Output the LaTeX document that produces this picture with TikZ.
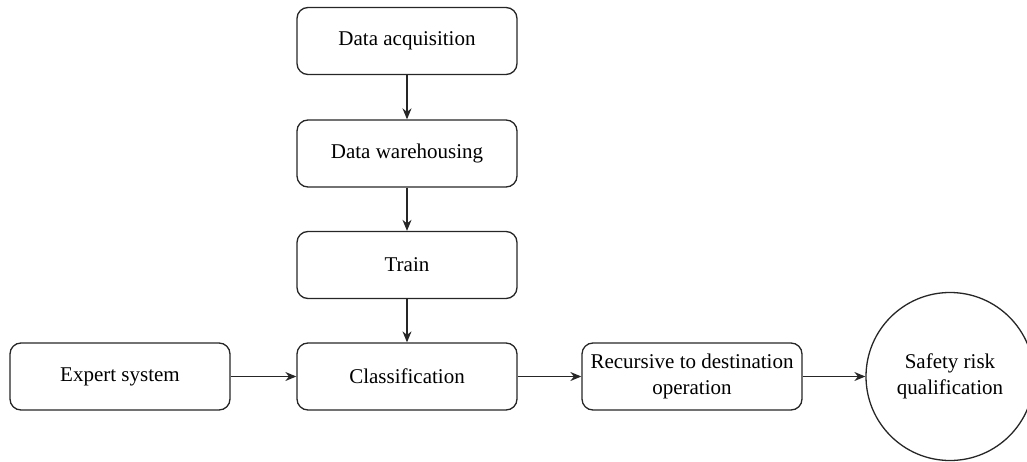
\documentclass[tikz,border=0pt]{standalone}
\usepackage{fontspec}
\setmainfont{Liberation Serif}
\usetikzlibrary{arrows.meta}
\begin{document}
\begin{tikzpicture}[x=1pt,y=-1pt,
  box/.style={draw=black!85, line width=1.3pt, rounded corners=11pt, minimum width=220pt, minimum height=67pt, inner sep=2pt, align=center, font=\fontsize{21}{26}\selectfont},
  circ/.style={draw=black!85, line width=1.3pt, circle, minimum size=168pt, inner sep=0pt, align=center, font=\fontsize{21}{26}\selectfont},
  arr/.style={draw=black!85, line width=1.3pt, -{Stealth[length=11pt,width=9pt]}}]
\useasboundingbox (0,0) rectangle (1027,462);
\node[box] (da) at (407,41) {Data acquisition};
\node[box] (dw) at (407,153.5) {Data warehousing};
\node[box] (tr) at (407,265) {Train};
\node[box] (cl) at (407,376.5) {Classification};
\node[box] (ex) at (120,376.5) {Expert system};
\node[box] (re) at (692,376.5) {Recursive to destination\\operation};
\node[circ] (sr) at (950,376.5) {Safety risk\\qualification};
\draw[arr] (da) -- (dw);
\draw[arr] (dw) -- (tr);
\draw[arr] (tr) -- (cl);
\draw[arr] (ex) -- (cl);
\draw[arr] (cl) -- (re);
\draw[arr] (re) -- (sr);
\end{tikzpicture}
\end{document}
